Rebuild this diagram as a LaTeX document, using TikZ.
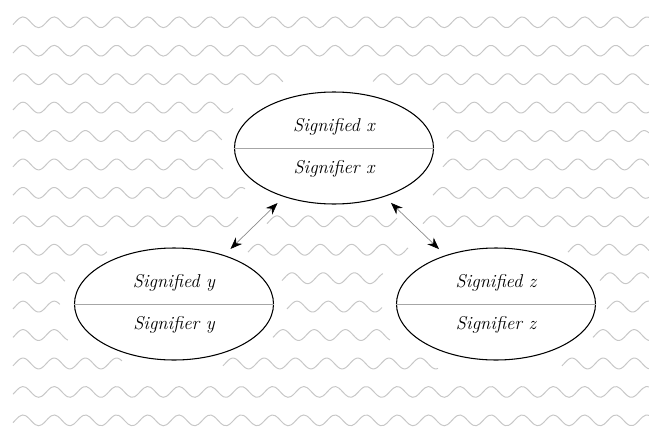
\documentclass[tikz,border=0pt]{standalone}
\usepackage{tikz}
\usetikzlibrary{arrows.meta, shapes.geometric}

\begin{document}
\begin{tikzpicture}

\tikzset{
  wave/.style={black!22, line width=0.7pt},
  sign/.style={ellipse, draw=black, line width=0.75pt, fill=white,
    minimum width=4.975cm, minimum height=2.8cm, inner sep=0pt},
  divider/.style={black!35, line width=0.5pt},
  signtext/.style={font=\fontsize{13.2}{15}\selectfont\itshape, inner sep=0pt},
  link/.style={{Stealth[black, length=8.5pt, width=6.5pt]}-{Stealth[black, length=8.5pt, width=6.5pt]},
    black!45, line width=0.5pt, shorten <=0.22cm, shorten >=0.22cm},
}

  \useasboundingbox (0,0) rectangle (16.225,10.725);

  % ── Background: rows of waves, broken round the ellipses ──
  \foreach \y/\a/\b in {
    10.168/0.325/16.225,
     9.457/0.325/16.225,
     8.746/0.325/7.075,  8.746/9.325/16.225,
     8.035/0.325/5.825,  8.035/10.825/16.225,
     7.325/0.325/5.55,   7.325/11.175/16.225,
     6.614/0.325/5.575,  6.614/11.075/16.225,
     5.903/0.325/6.125,  5.903/10.825/16.225,
     5.192/0.325/5.95,   5.192/6.675/9.925,  5.192/10.575/16.225,
     4.481/0.325/2.675,  4.481/6.2/10.2,     4.481/14.2/16.225,
     3.770/0.325/1.625,  3.770/7.05/9.575,   3.770/15.0/16.225,
     3.060/0.325/1.5,    3.060/7.175/9.55,   3.060/15.175/16.225,
     2.349/0.325/1.7,    2.349/6.825/9.75,   2.349/14.825/16.225,
     1.638/0.325/3.05,   1.638/5.575/10.95,  1.638/14.05/16.225,
     0.927/0.325/16.225,
     0.216/0.325/16.225
  }{
    \draw[wave] plot[domain=\a:\b, samples=200, smooth, variable=\t]
      (\t, {\y + 0.135*cos(360*(\t-\a-0.25)/0.78)});
  }

  % ── Signs: signified over signifier ───────────────────────
  \foreach \n/\x/\y in {x/8.35/7.025, y/4.35/3.125, z/12.4/3.125}{
    \node[sign] (sign\n) at (\x,\y) {};
    \draw[divider] (sign\n.west) -- (sign\n.east);
    \node[signtext] (sign\n-top) at ([yshift=0.54cm]sign\n.center) {Signified \n};
    \node[signtext] (sign\n-bot) at ([yshift=-0.53cm]sign\n.center) {Signifier \n};
  }

  % ── Relations ─────────────────────────────────────────────
  \draw[link] (signy) -- (signx);
  \draw[link] (signx) -- (signz);

\end{tikzpicture}
\end{document}
